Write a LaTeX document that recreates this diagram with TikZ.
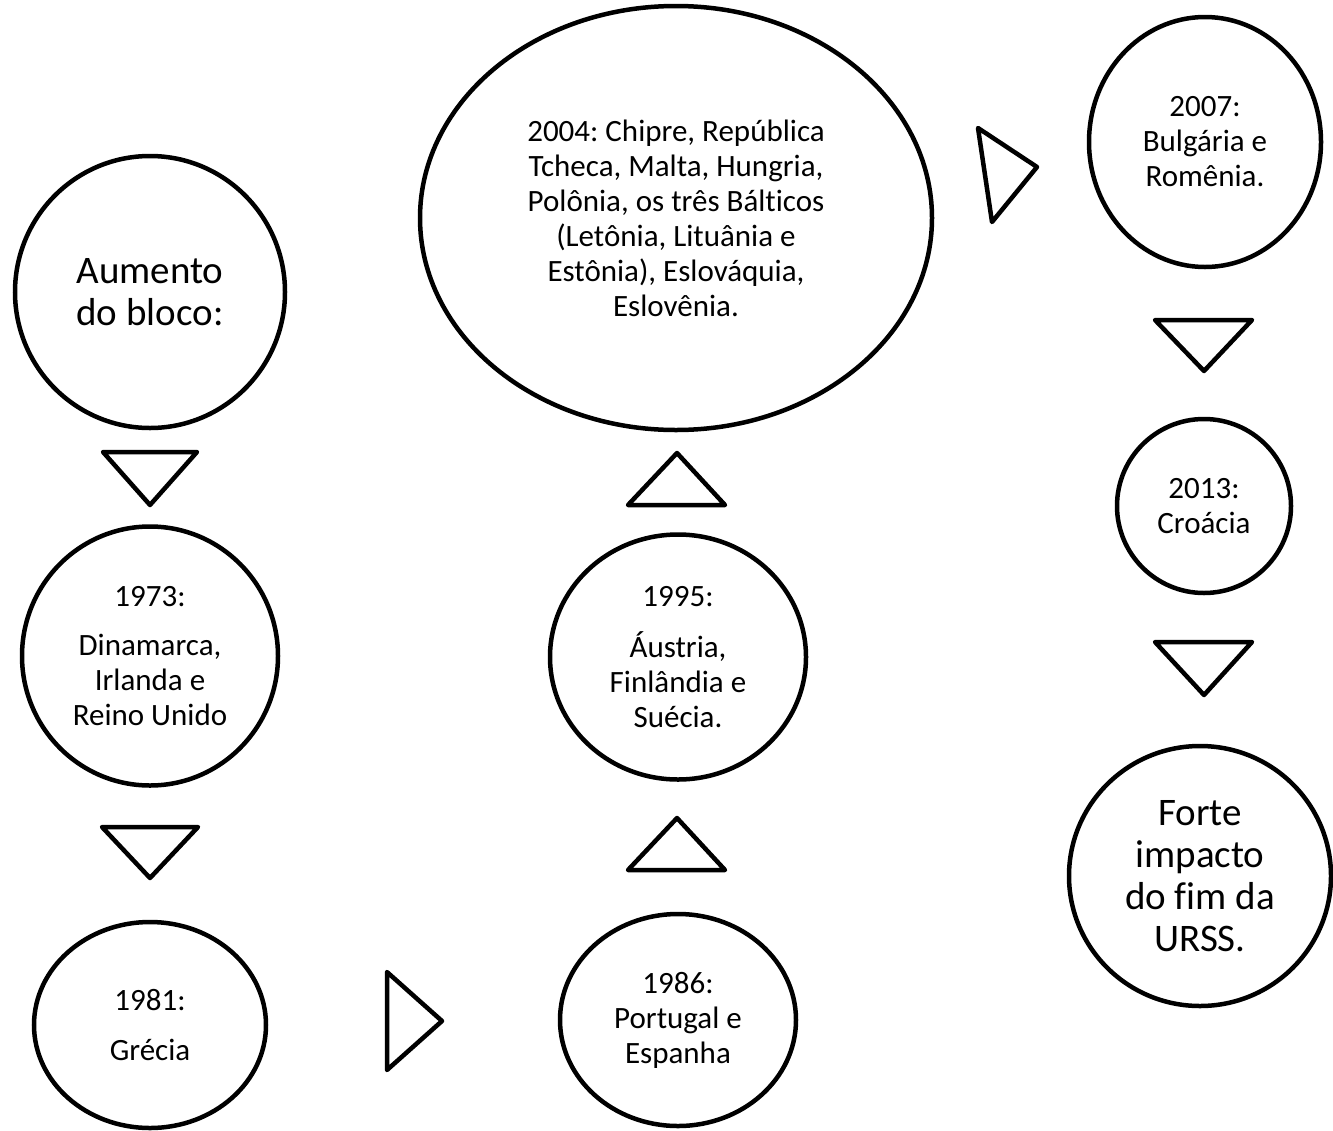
\documentclass[tikz,border=0pt]{standalone}
\usepackage{fontspec}
\setmainfont{Carlito}[Ligatures={NoCommon}]
\usetikzlibrary{shapes.geometric}
\begin{document}
\frenchspacing
\begin{tikzpicture}[x=1pt,y=-1pt,
  bubble/.style={draw=black, line width=4.5pt, ellipse, inner sep=0pt, align=center,
    font=\fontsize{31}{35}\selectfont\frenchspacing},
  bigbubble/.style={bubble, font=\fontsize{39}{42}\selectfont},
  tri/.style={draw=black, line width=4.5pt, line join=round}]
\useasboundingbox (0,0) rectangle (1333,1130);
\fill[white] (0,0) rectangle (1333,1130);
% column 1
\node[bigbubble, minimum width=270pt, minimum height=272pt] (aum) at (150,292) {Aumento\\do bloco:};
\node[bubble, minimum width=256pt, minimum height=259pt] (n1973) at (150,656) {1973:\\[14pt]Dinamarca,\\Irlanda e\\Reino Unido};
\node[bubble, minimum width=232pt, minimum height=206pt] (n1981) at (150,1025) {1981:\\[15pt]Grécia};
% column 2
\node[bubble, minimum width=236pt, minimum height=212pt] (n1986) at (678,1020) {1986:\\Portugal e\\Espanha};
\node[bubble, minimum width=256pt, minimum height=245pt] (n1995) at (678,657) {1995:\\[16pt]Áustria,\\Finlândia e\\Suécia.};
\node[bubble, minimum width=512pt, minimum height=424pt] (n2004) at (676,218) {2004: Chipre, República\\Tcheca, Malta, Hungria,\\Polônia, os três Bálticos\\(Letônia, Lituânia e\\Estônia), Eslováquia,\\Eslovênia.};
% column 3
\node[bubble, minimum width=232pt, minimum height=250pt] (n2007) at (1205,142) {2007:\\Bulgária e\\Romênia.};
\node[bubble, minimum width=174pt, minimum height=174pt] (n2013) at (1204,506) {2013:\\Croácia};
\node[bigbubble, minimum width=262pt, minimum height=260pt] (forte) at (1200,876) {Forte\\impacto\\do fim da\\URSS.};
% triangles
\draw[tri] (103,452) -- (197,452) -- (150,505) -- cycle;
\draw[tri] (102,827) -- (198,827) -- (150,878) -- cycle;
\draw[tri] (387,972) -- (387,1070) -- (442,1021) -- cycle;
\draw[tri] (628,870) -- (725,870) -- (677,818) -- cycle;
\draw[tri] (628,505) -- (725,505) -- (677,453) -- cycle;
\draw[tri] (978,128) -- (992,222) -- (1037,167) -- cycle;
\draw[tri] (1155,320) -- (1252,320) -- (1204,371) -- cycle;
\draw[tri] (1155,642) -- (1252,642) -- (1204,695) -- cycle;
\end{tikzpicture}
\end{document}
